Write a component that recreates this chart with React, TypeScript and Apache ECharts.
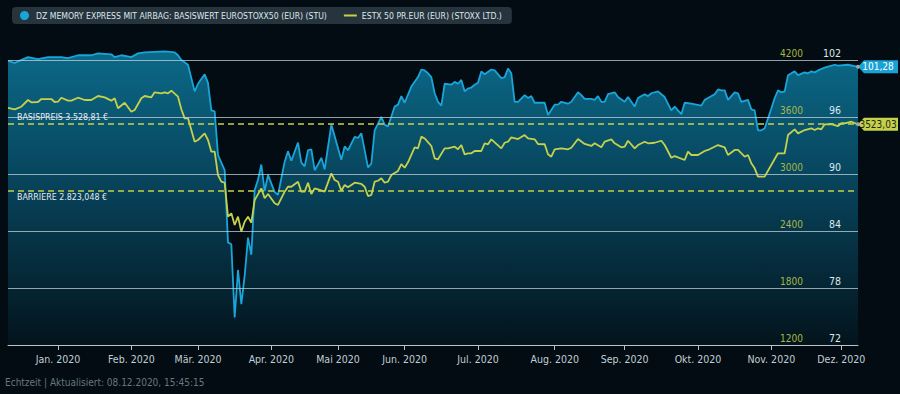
import React, { useEffect, useRef } from "react";
import * as echarts from "echarts";

const FONT = "'Liberation Sans Narrow', 'DejaVu Sans Condensed', 'Roboto', sans-serif";

const blueName = "DZ MEMORY EXPRESS MIT AIRBAG: BASISWERT EUROSTOXX50 (EUR) (STU)";
const greenName = "ESTX 50 PR.EUR (EUR) (STOXX LTD.)";

// x = trading-day index (0 = 05.12.2019 ... 255 = 08.12.2020)
const monthTickIdx = [15, 37, 57, 79, 99, 119, 141, 164, 185, 207, 229, 250];
const monthLabels = ["Jan. 2020", "Feb. 2020", "Mär. 2020", "Apr. 2020", "Mai 2020", "Jun. 2020", "Jul. 2020", "Aug. 2020", "Sep. 2020", "Okt. 2020", "Nov. 2020", "Dez. 2020"];

const blueIdx = [0,2,6,9,12,16,18,21,25,27,31,32,34,37,39,41,47,50,51,52,54,56,57,59,60,61,62,63,65,66,67,68,69,70,71,72,73,74,75,76,77,78,80,81,83,84,85,87,88,89,90,91,92,93,94,95,97,100,101,102,104,105,106,108,109,110,112,113,114,116,117,118,119,121,123,124,125,126,127,128,129,130,131,133,134,135,136,137,138,139,140,141,142,143,145,146,148,149,150,151,152,153,155,156,157,158,161,162,164,165,166,168,169,171,172,173,175,176,177,178,179,180,182,183,185,186,188,189,191,192,193,195,196,197,199,200,202,203,205,208,209,210,212,213,214,215,216,218,219,220,222,223,224,225,226,227,229,230,231,232,233,234,236,237,239,240,241,242,243,245,246,248,249,252,255];
const blueVals = [101.9,101.7,102.3,102.1,102.3,102.3,102.2,102.5,102.5,102.7,102.6,102.3,102.5,102.3,102.7,102.8,102.9,102.8,102.5,102.0,101.5,98.7,99.5,100.5,99.6,96.7,96.6,92.0,90.4,82.8,82.6,74.9,79.9,76.3,79.3,83.3,81.5,88.3,89.4,91.0,88.2,89.9,88.1,87.8,91.3,92.4,91.4,93.3,91.2,90.8,92.5,92.6,90.4,91.0,91.7,90.5,95.2,91.5,92.9,92.5,93.9,93.8,94.3,90.7,91.1,94.6,96.0,95.2,95.0,97.1,97.3,98.2,97.5,99.2,100.2,101.0,100.9,100.6,100.2,98.5,97.6,97.2,99.5,99.4,99.7,99.5,99.9,98.7,99.0,99.1,99.4,99.6,100.8,100.5,101.0,100.9,100.1,100.2,101.1,100.6,97.6,97.6,98.3,98.0,98.2,97.5,97.5,96.2,97.3,97.3,97.6,97.4,97.6,98.6,98.3,97.9,97.9,97.8,98.2,97.6,97.6,98.4,98.6,98.1,97.6,98.1,97.1,98.0,98.4,98.2,98.5,98.7,98.4,98.1,96.7,97.1,96.3,97.5,97.4,97.2,97.8,98.0,98.4,98.9,98.8,98.8,97.8,98.6,98.5,97.6,97.8,96.8,96.7,94.6,94.6,94.8,96.9,98.0,98.8,98.6,98.7,100.4,100.8,100.4,100.7,100.6,100.8,100.7,100.9,101.2,101.3,101.5,101.4,101.5,101.28];

const greenIdx = [0,2,4,6,7,9,10,13,14,15,16,18,19,21,23,25,27,29,31,32,33,35,37,38,40,41,43,44,46,47,48,49,51,52,53,54,56,57,59,60,61,62,63,64,65,66,67,68,69,70,71,72,73,74,76,77,78,80,81,83,84,85,87,88,89,90,91,92,93,95,97,98,99,100,101,102,104,106,107,108,109,110,111,112,113,114,115,117,118,119,120,122,123,124,125,127,128,129,131,132,134,135,136,137,138,139,140,142,143,144,145,148,149,150,151,153,155,156,158,159,161,162,163,164,166,168,169,171,173,175,176,178,179,181,182,184,185,186,188,189,191,192,194,196,197,199,200,203,204,205,207,209,210,213,215,216,218,219,221,222,223,224,225,227,230,231,233,234,236,237,239,241,242,243,244,245,247,249,250,251,253,255];
const greenVals = [3695,3681,3708,3779,3755,3758,3789,3789,3758,3761,3803,3772,3772,3803,3779,3779,3821,3807,3772,3797,3692,3750,3656,3674,3797,3821,3807,3860,3849,3860,3849,3877,3814,3681,3586,3586,3340,3358,3428,3358,3235,3235,2989,2919,2908,2551,2586,2463,2551,2393,2498,2551,2487,2726,2849,2744,2789,2692,2674,2814,2866,2866,2919,2814,2814,2908,2789,2849,2839,2814,3007,2937,2919,2824,2884,2860,2908,2895,2866,2768,2779,2919,2929,2955,2908,2919,2989,3032,3105,3066,3123,3281,3270,3393,3374,3295,3165,3155,3270,3270,3287,3260,3305,3207,3218,3218,3242,3242,3323,3313,3365,3270,3329,3340,3386,3368,3410,3376,3365,3316,3313,3207,3182,3260,3270,3260,3277,3368,3316,3295,3323,3281,3340,3365,3323,3281,3287,3350,3270,3305,3340,3323,3329,3350,3305,3171,3189,3147,3235,3200,3200,3242,3253,3305,3281,3200,3253,3253,3182,3200,3113,3060,2972,2972,3158,3218,3218,3410,3470,3428,3463,3481,3463,3481,3470,3523,3526,3505,3534,3534,3550,3523.03];

const blueTicks = [72, 78, 84, 90, 96, 102];
const greenTicks = [1200, 1800, 2400, 3000, 3600, 4200];
const basispreis = 3528.81;
const barriere = 2823.048;
const blueLast = 101.28;
const greenLast = 3523.03;
const footerText = "Echtzeit | Aktualisiert: 08.12.2020, 15:45:15";

export default function App() {
  const ref = useRef<HTMLDivElement>(null);
  useEffect(() => {
    document.body.style.margin = "0";
    document.body.style.background = "#020c12";
    const chart = echarts.init(ref.current!, undefined, { renderer: "svg" });
    const blueData = blueIdx.map((x, i) => [x, blueVals[i]]);
    const greenData = greenIdx.map((x, i) => [x, greenVals[i]]);
    const lastX = blueIdx[blueIdx.length - 1];
    const tagPath = "path://M0,7 L6,0 L40,0 L40,14 L6,14 Z";
    const hiddenLine = { color: "rgba(0,0,0,0)", width: 0 };
    chart.setOption({
      animation: false,
      backgroundColor: "#020c12",
      textStyle: { fontFamily: FONT },
      legend: {
        left: 12,
        top: 7,
        padding: [4, 10, 4, 8],
        backgroundColor: "#26343d",
        borderRadius: 4,
        itemWidth: 13,
        itemHeight: 9,
        itemGap: 17,
        symbolKeepAspect: true,
        textStyle: { color: "#dfe6ea", fontSize: 8.6, fontFamily: FONT },
        data: [
          { name: blueName, icon: "circle" },
          { name: greenName, icon: "path://M0,0 L13,0 L13,2 L0,2 Z" },
        ],
      },
      grid: { left: 8, right: 42, top: 41, bottom: 49 },
      xAxis: {
        type: "value",
        min: 0,
        max: 255,
        axisLine: { show: true, lineStyle: { color: "#b9c3c8", width: 1 } },
        axisTick: { show: true, length: 5, customValues: monthTickIdx, lineStyle: { color: "#b9c3c8" } },
        axisLabel: {
          customValues: monthTickIdx,
          color: "#c3ced5",
          fontSize: 10.5,
          fontFamily: FONT,
          margin: 8,
          formatter: (v: number) => monthLabels[monthTickIdx.indexOf(Math.round(v))] ?? "",
        },
        splitLine: { show: false },
      },
      yAxis: [
        {
          type: "value",
          position: "right",
          min: 72,
          max: 104,
          axisLine: { show: false },
          axisTick: { show: false },
          splitLine: { show: false },
          axisLabel: { show: false },
        },
        {
          type: "value",
          position: "right",
          min: 1200,
          max: 4400,
          axisLine: { show: false },
          axisTick: { show: false },
          splitLine: { show: false },
          axisLabel: { show: false },
        },
      ],
      series: [
        {
          name: blueName,
          type: "line",
          yAxisIndex: 0,
          data: blueData,
          symbol: "none",
          z: 2,
          lineStyle: { color: "#19a5d9", width: 1.8 },
          itemStyle: { color: "#19a5d9" },
          areaStyle: {
            opacity: 1,
            color: new echarts.graphic.LinearGradient(0, 0, 0, 1, [
              { offset: 0, color: "#0b6988" },
              { offset: 0.5, color: "#073f56" },
              { offset: 1, color: "#03141c" },
            ]),
          },
          markLine: {
            silent: true,
            symbol: ["none", "none"],
            lineStyle: { color: "rgba(195,210,218,0.75)", width: 1, type: "solid" },
            label: {
              show: true,
              position: "insideEndTop",
              distance: [17, 2],
              color: "#dfe7ec",
              fontSize: 10.5,
              fontFamily: FONT,
            },
            data: blueTicks.map((v) => ({
              yAxis: v,
              label: { formatter: String(v) },
              lineStyle: v === 72 ? hiddenLine : undefined,
            })),
          },
          markPoint: {
            silent: true,
            data: [
              {
                coord: [lastX, blueLast],
                symbol: tagPath,
                symbolSize: [40, 13],
                symbolOffset: [20, 0],
                itemStyle: { color: "#17a3d6" },
                label: { show: true, formatter: "101,28", color: "#ffffff", fontSize: 10, fontFamily: FONT, offset: [0, 0] },
              },
              {
                coord: [lastX, blueLast],
                symbol: "circle",
                symbolSize: 4,
                itemStyle: { color: "#9aa6ac" },
                label: { show: false },
              },
            ],
          },
        },
        {
          name: greenName,
          type: "line",
          yAxisIndex: 1,
          data: greenData,
          symbol: "none",
          z: 3,
          lineStyle: { color: "#c6d14b", width: 1.8 },
          itemStyle: { color: "#c6d14b" },
          markLine: {
            silent: true,
            symbol: ["none", "none"],
            lineStyle: { color: "#c6d14b", width: 1.5, type: [6, 4] },
            label: { color: "#e6ecef", fontSize: 8.8, fontFamily: FONT, distance: [9, 2] },
            data: [
              { yAxis: basispreis, label: { position: "insideStartTop", formatter: "BASISPREIS 3.528,81 €" } },
              { yAxis: barriere, label: { position: "insideStartBottom", formatter: "BARRIERE 2.823,048 €" } },
              ...greenTicks.map((v) => ({
                yAxis: v,
                lineStyle: hiddenLine,
                label: {
                  position: "insideEndTop",
                  distance: [55, 2],
                  formatter: String(v),
                  color: "#a7b64a",
                  fontSize: 10,
                },
              })),
            ],
          },
          markPoint: {
            silent: true,
            data: [
              {
                coord: [lastX, greenLast],
                symbol: tagPath,
                symbolSize: [40, 13],
                symbolOffset: [20, 0],
                itemStyle: { color: "#c6d14b" },
                label: { show: true, formatter: "3523,03", color: "#1c260c", fontSize: 10, fontFamily: FONT, offset: [0, 0] },
              },
              {
                coord: [lastX, greenLast],
                symbol: "circle",
                symbolSize: 4,
                itemStyle: { color: "#9aa6ac" },
                label: { show: false },
              },
            ],
          },
        },
      ],
      graphic: [
        {
          type: "text",
          left: 5,
          top: 377,
          style: { text: footerText, fill: "#6a767e", font: `10px ${FONT}` },
        },
      ],
    });
    return () => chart.dispose();
  }, []);
  return <div ref={ref} style={{ position: "fixed", left: 0, top: 0, width: 900, height: 394 }} />;
}
